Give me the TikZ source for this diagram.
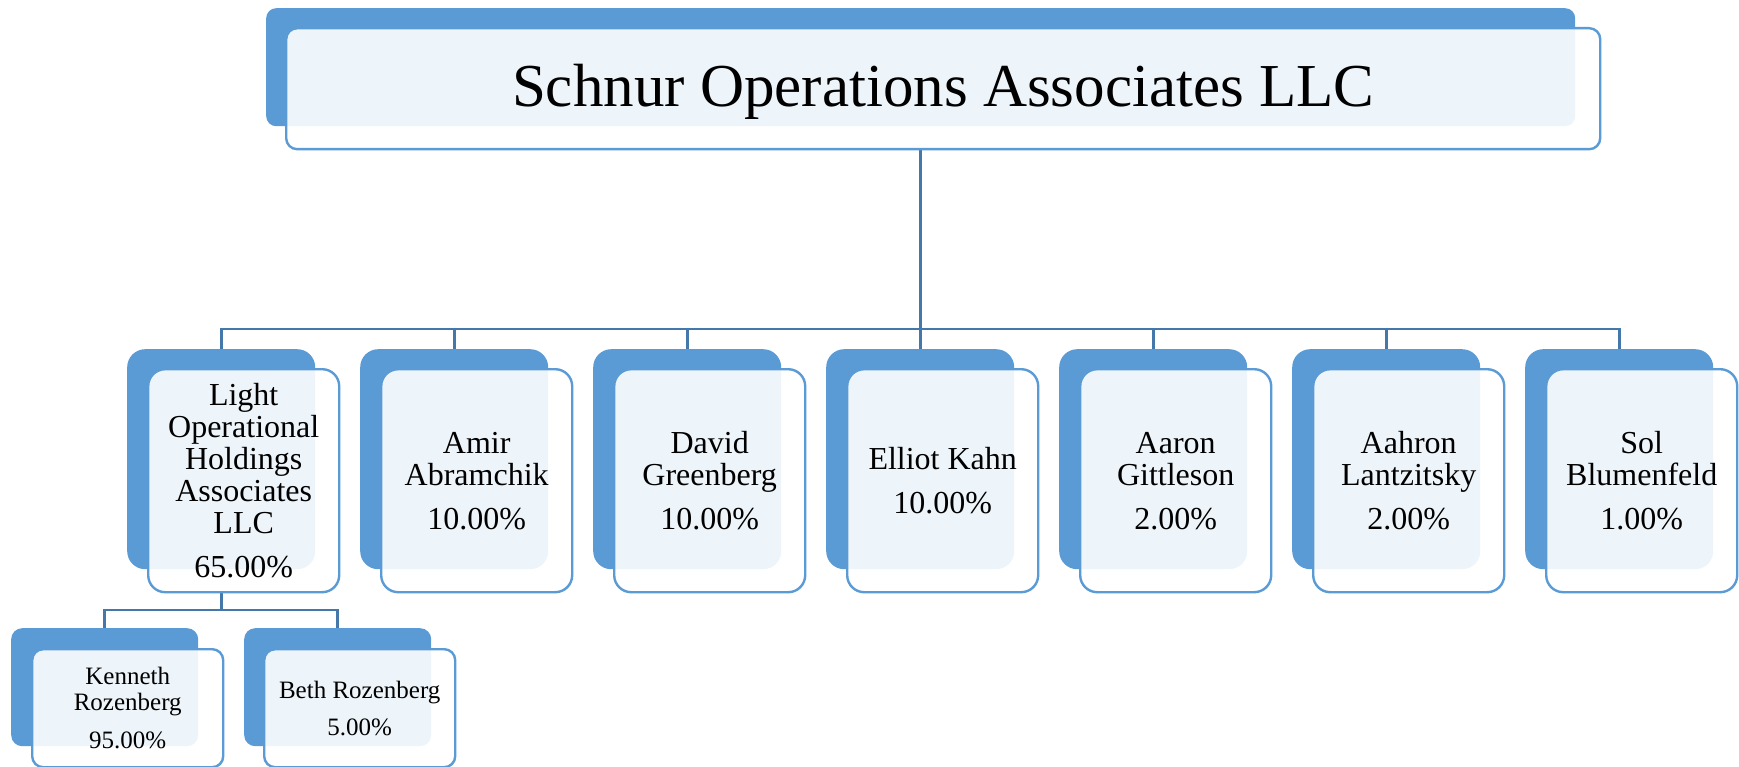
\documentclass[tikz,border=0pt]{standalone}
\usepackage{fontspec}
\setmainfont{Liberation Serif}
\usetikzlibrary{calc,backgrounds}
\definecolor{accent}{RGB}{91,155,213}
\definecolor{conn}{RGB}{68,119,170}
\begin{document}
\begin{tikzpicture}[x=1pt,y=-1pt,
  darkbox/.style={fill=accent, inner sep=0pt, anchor=north west},
  frontbox/.style={draw=accent, line width=2.4pt, fill=white, fill opacity=0.9,
    text opacity=1, text=black, inner sep=0pt, anchor=north west, align=center},
  kiddark/.style={darkbox, minimum width=188pt, minimum height=220pt, rounded corners=18pt},
  kidfront/.style={frontbox, minimum width=191pt, minimum height=223pt, rounded corners=17pt,
    font=\fontsize{32}{32}\selectfont},
  subdark/.style={darkbox, minimum width=187pt, minimum height=118pt, rounded corners=11pt},
  subfront/.style={frontbox, minimum width=191pt, minimum height=118pt, rounded corners=11pt,
    font=\fontsize{25}{26}\selectfont},
  link/.style={draw=conn, line width=2.6pt},
  titletext/.style={font=\fontsize{61}{61}\selectfont, inner sep=0pt, anchor=base}]
\useasboundingbox (0,0) rectangle (1739,767);

% top box
\node[darkbox, minimum width=1309pt, minimum height=118pt, rounded corners=10pt] (topd) at (266,8) {};
\node[frontbox, minimum width=1314pt, minimum height=121pt, rounded corners=11pt] (topf) at (285,27) {};
\node[titletext, text=black] (title) at ($(topf.center)+(0,17.5)$) {Schnur Operations Associates LLC};

% children
\node[kiddark] (c1d) at (127,349) {};
\node[kidfront] (c1f) at (147,368) {Light\\Operational\\Holdings\\Associates\\LLC\\[12pt]65.00\%};
\node[kiddark] (c2d) at (360,349) {};
\node[kidfront] (c2f) at (380,368) {Amir\\Abramchik\\[12pt]10.00\%};
\node[kiddark] (c3d) at (593,349) {};
\node[kidfront] (c3f) at (613,368) {David\\Greenberg\\[12pt]10.00\%};
\node[kiddark] (c4d) at (826,349) {};
\node[kidfront] (c4f) at (846,368) {Elliot Kahn\\[12pt]10.00\%};
\node[kiddark] (c5d) at (1059,349) {};
\node[kidfront] (c5f) at (1079,368) {Aaron\\Gittleson\\[12pt]2.00\%};
\node[kiddark] (c6d) at (1292,349) {};
\node[kidfront] (c6f) at (1312,368) {Aahron\\Lantzitsky\\[12pt]2.00\%};
\node[kiddark] (c7d) at (1525,349) {};
\node[kidfront] (c7f) at (1545,368) {Sol\\Blumenfeld\\[12pt]1.00\%};

% grandchildren
\node[subdark] (kd) at (11,628) {};
\node[subfront] (kf) at (31,648) {Kenneth\\Rozenberg\\[12pt]95.00\%};
\node[subdark] (bd) at (244,628) {};
\node[subfront] (bf) at (263,648) {Beth Rozenberg\\[11pt]5.00\%};

\begin{pgfonlayer}{background}
\foreach \c in {c1d,c2d,c3d,c4d,c5d,c6d,c7d}{
  \draw[link] (topd.south |- topf.south) |- ($(\c.north)+(0,-20)$) -- (\c.north);
}
\foreach \c in {kd,bd}{
  \draw[link] (c1d.south |- c1f.south) |- ($(\c.north)+(0,-18)$) -- (\c.north);
}
\end{pgfonlayer}
\end{tikzpicture}
\end{document}
